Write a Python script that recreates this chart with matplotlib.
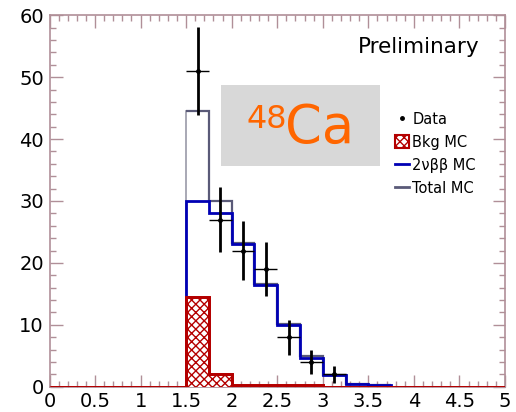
import numpy as np
import matplotlib
matplotlib.use("Agg")
import matplotlib.pyplot as plt
from matplotlib.patches import Rectangle, Patch
from matplotlib.lines import Line2D
from matplotlib.ticker import MultipleLocator

# Histogram binning: 0 to 5 in steps of 0.25
bin_edges = np.arange(0, 5.0001, 0.25)

# Background MC per bin (20 bins)
bkg_mc = [0, 0, 0, 0, 0, 0, 14.5, 2.0, 0.2, 0.2, 0.2, 0.2, 0, 0, 0, 0, 0, 0, 0, 0]
# 2vbb MC per bin (non-empty range 1.5 .. 3.75)
sig_edges = [1.5, 1.75, 2.0, 2.25, 2.5, 2.75, 3.0, 3.25, 3.5, 3.75]
sig_mc = [30.0, 28.0, 23.0, 16.4, 9.9, 4.7, 1.9, 0.45, 0.2]
# Total MC = bkg + signal over the same range
total_mc = [44.5, 30.0, 23.2, 16.6, 10.1, 4.9, 1.9, 0.45, 0.2]

# Data points (bin centres), counts and errors
data_x = [1.625, 1.875, 2.125, 2.375, 2.625, 2.875, 3.125]
data_y = [51, 27, 22, 19, 8, 4, 2]
data_err = [7.1, 5.2, 4.7, 4.4, 2.8, 2.0, 1.4]
data_xerr = 0.125

x_ticks = [0, 0.5, 1, 1.5, 2, 2.5, 3, 3.5, 4, 4.5, 5]
x_ticklabels = ["0", "0.5", "1", "1.5", "2", "2.5", "3", "3.5", "4", "4.5", "5"]
y_ticks = [0, 10, 20, 30, 40, 50, 60]

red = "#b40000"
blue = "#0000b4"
gray = "#5a5a78"
frame = "#b08f98"

plt.rcParams["hatch.color"] = red
plt.rcParams["hatch.linewidth"] = 1.0

fig = plt.figure(figsize=(5.16, 4.12), dpi=100)
ax = fig.add_axes([49.5 / 516, 25.3 / 412, 455.5 / 516, 371.4 / 412])

ax.stairs(total_mc, sig_edges, color=gray, lw=1.6, baseline=None, zorder=2)
ax.plot([1.5, 1.5], [0, total_mc[0]], color="#9a9aa8", lw=1.2, zorder=1.9)
ax.stairs(sig_mc, sig_edges, color=blue, lw=2.0, baseline=0, zorder=3)
ax.stairs(bkg_mc, bin_edges, fill=True, facecolor="white", edgecolor=red,
          hatch="xxxx", lw=2.0, zorder=4)
ax.stairs(bkg_mc, bin_edges, color=red, lw=2.0, baseline=0, zorder=4.5)

ax.errorbar(data_x, data_y, yerr=data_err, fmt="none", ecolor="black",
            elinewidth=2.0, capsize=0, zorder=6)
ax.errorbar(data_x, data_y, xerr=data_xerr, fmt="none", ecolor="black",
            elinewidth=1.0, capsize=0, zorder=6)
ax.plot(data_x, data_y, ls="none", marker="o", ms=2.5, color="black", zorder=7)

ax.set_xlim(0, 5)
ax.set_ylim(0, 60)
ax.set_xticks(x_ticks)
ax.set_xticklabels(x_ticklabels)
ax.set_yticks(y_ticks)
ax.xaxis.set_minor_locator(MultipleLocator(0.1))
ax.yaxis.set_minor_locator(MultipleLocator(2))
ax.tick_params(which="both", direction="in", top=True, right=True,
               color=frame, width=1.0, labelsize=14, labelcolor="black")
ax.tick_params(which="major", length=9, pad=4)
ax.tick_params(which="minor", length=4)
for sp in ax.spines.values():
    sp.set_color(frame)
    sp.set_linewidth(1.2)

# Annotation panel
ax.add_patch(Rectangle((0.3765, 0.595), 0.349, 0.2173, transform=ax.transAxes,
                       facecolor="#d8d8d8", edgecolor="none", zorder=1))
fig.text(246.7 / 516, (412 - 128) / 412, "48", color="#ff6600", fontsize=23,
         va="baseline", ha="left")
fig.text(285 / 516, (412 - 143.3) / 412, "Ca", color="#ff6600", fontsize=38,
         va="baseline", ha="left")

ax.text(0.943, 0.8985, "Preliminary", transform=ax.transAxes, ha="right",
        va="baseline", fontsize=15.5, color="black")

handles = [
    Line2D([], [], ls="none", marker="o", ms=2.5, color="black"),
    Patch(facecolor="white", edgecolor=red, hatch="xxxx", lw=1.5),
    Line2D([], [], color=blue, lw=2),
    Line2D([], [], color=gray, lw=2),
]
labels = ["Data", "Bkg MC", "2\u03bd\u03b2\u03b2 MC", "Total MC"]
ax.legend(handles, labels, loc="upper left", bbox_to_anchor=(0.745, 0.756),
          frameon=False, fontsize=10.5, handlelength=1.0, handleheight=1.0,
          handletextpad=0.2, labelspacing=0.56, borderaxespad=0)

fig.savefig("out.png", dpi=100)
